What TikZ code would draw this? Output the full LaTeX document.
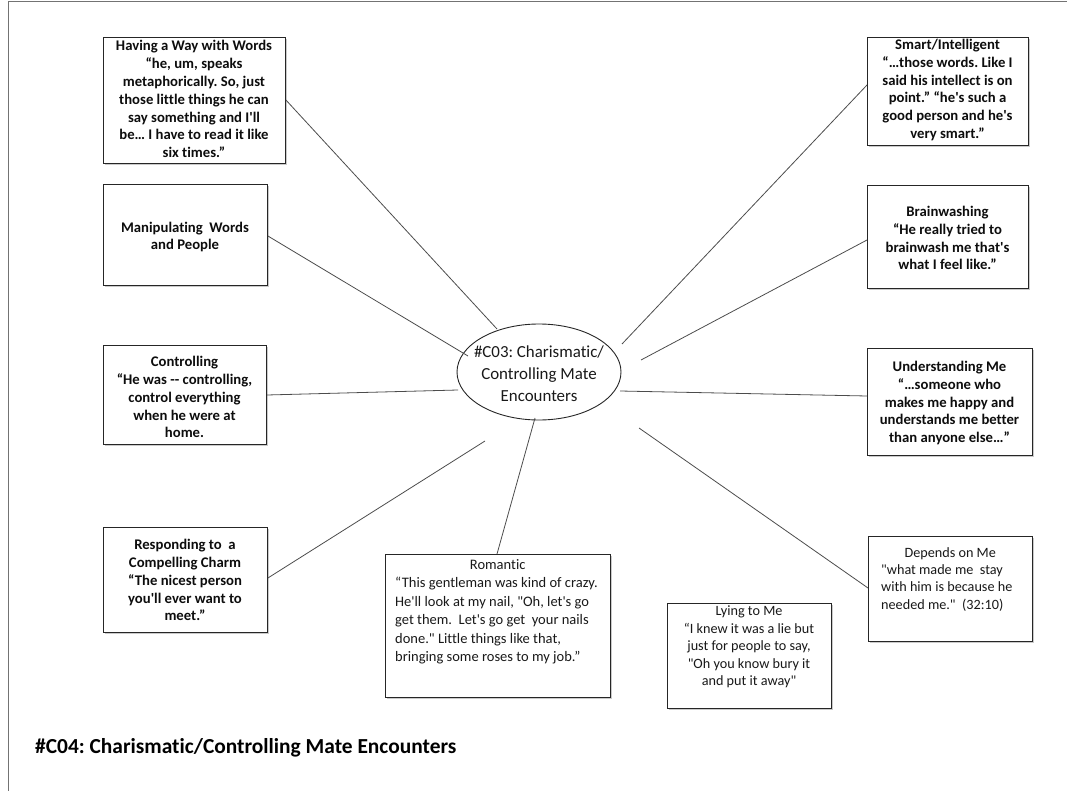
\documentclass[tikz,border=0pt]{standalone}
\usepackage{fontspec}
\setmainfont{Carlito}[Ligatures={TeXOff,NoCommon}]
\usetikzlibrary{shapes.geometric,calc,shadows}
\frenchspacing

\tikzset{
  box/.style={draw=black!85, line width=0.9pt, fill=white, rectangle, inner sep=0pt,
    anchor=north west,
    drop shadow={shadow xshift=1.6pt, shadow yshift=-1.6pt, opacity=0.35, fill=black!60}},
  boldtxt/.style={align=center, inner sep=0pt,
    font=\fontsize{14.7}{17.9}\selectfont\bfseries, text=black!95},
  plaintxt/.style={inner sep=0pt,
    font=\fontsize{14.2}{17.4}\selectfont, text=black!90},
  link/.style={draw=black!70, line width=0.8pt},
  hub/.style={ellipse, draw=black!85, line width=0.9pt, fill=white, inner sep=0pt,
    minimum width=164pt, minimum height=96pt},
  hubtxt/.style={align=center, inner sep=0pt,
    font=\fontsize{16.9}{22}\selectfont, text=black!90}
}

\begin{document}
\begin{tikzpicture}[x=1pt, y=-1pt]
\useasboundingbox (0,0) rectangle (1067,791);

% page frame
\draw[black!55, line width=0.8pt] (8,791) -- (8,1) -- (1067,1);

% left column
\node[box, minimum width=182pt, minimum height=126pt] (b1) at (103,37) {};
\node[boldtxt] (t1) at (194,99) {Having a Way with Words\\“he, um, speaks\\metaphorically. So, just\\those little things he can\\say something and I'll\\be… I have to read it like\\six times.”};

\node[box, minimum width=164pt, minimum height=101pt] (b2) at (103,184) {};
\node[boldtxt] (t2) at (185,237) {Manipulating\ \ Words\\and People};

\node[box, minimum width=163pt, minimum height=99pt] (b3) at (103,345) {};
\node[boldtxt] (t3) at (184.5,397) {Controlling\\“He was -- controlling,\\control everything\\when he were at\\home.};

\node[box, minimum width=164pt, minimum height=105pt] (b4) at (103,527) {};
\node[boldtxt] (t4) at (185,580) {Responding to\ \ a\\Compelling Charm\\“The nicest person\\you'll ever want to\\meet.”};

% bottom row
\node[box, minimum width=225pt, minimum height=143pt] (b5) at (385,554) {};
\node[plaintxt, font=\fontsize{14.5}{18.5}\selectfont, align=left, anchor=north west] (t5) at (395,559)
  {\makebox[205pt][c]{Romantic}\\“This gentleman was kind of crazy.\\He'll look at my nail, "Oh, let's go\\get them.\ \ Let's go get\ \ your nails\\done." Little things like that,\\bringing some roses to my job.”};

\node[box, minimum width=164pt, minimum height=105pt] (b6) at (667,603) {};
\node[plaintxt, align=center] (t6) at (749,647) {Lying to Me\\“I knew it was a lie but\\just for people to say,\\"Oh you know bury it\\and put it away"};

\node[box, minimum width=164pt, minimum height=105pt] (b7) at (868,536) {};
\node[plaintxt, align=left, anchor=north west] (t7) at (881,547)
  {\makebox[138pt][c]{Depends on Me}\\"what made me\ \ stay\\with him is because he\\needed me."\ \ (32:10)};

% right column
\node[box, minimum width=165pt, minimum height=107pt] (b8) at (867,348) {};
\node[boldtxt] (t8) at (949.5,403) {Understanding Me\\“…someone who\\makes me happy and\\understands me better\\than anyone else…”};

\node[box, minimum width=161pt, minimum height=103pt] (b9) at (867,185) {};
\node[boldtxt] (t9) at (947.5,238) {Brainwashing\\“He really tried to\\brainwash me that's\\what I feel like.”};

\node[box, minimum width=161pt, minimum height=108pt] (b10) at (867,37) {};
\node[boldtxt] (t10) at (947.5,90) {Smart/Intelligent\\“…those words. Like I\\said his intellect is on\\point.” “he's such a\\good person and he's\\very smart.”};

% central theme
\node[hub] (hub) at (539,372) {};
\node[hubtxt] (hubt) at ($(hub.center)+(0,2)$) {\#C03: Charismatic/\\Controlling Mate\\Encounters};

% free ends of the spokes near the hub
\coordinate (e1) at ($(hub.center)+(-42,-43)$);
\coordinate (e2) at ($(hub.center)+(-71,-16)$);
\coordinate (e3) at ($(hub.center)+(-81,18)$);
\coordinate (e4) at ($(hub.center)+(-54,69)$);
\coordinate (e5) at ($(hub.center)+(-4,46)$);
\coordinate (e6) at ($(hub.center)+(100,56)$);
\coordinate (e7) at ($(hub.center)+(81,19)$);
\coordinate (e8) at ($(hub.center)+(102,-12)$);
\coordinate (e9) at ($(hub.center)+(83,-28)$);

% spokes
\draw[link] ($(b1.north east)+(0,63)$) -- (e1);
\draw[link] ($(b2.north east)+(0,52)$) -- (e2);
\draw[link] ($(b3.north east)+(0,50)$) -- (e3);
\draw[link] ($(b4.north east)+(0,51)$) -- (e4);
\draw[link] ($(b5.north west)+(112,0)$) -- (e5);
\draw[link] ($(b7.north west)+(0,52)$) -- (e6);
\draw[link] ($(b8.north west)+(0,48)$) -- (e7);
\draw[link] ($(b9.north west)+(0,55)$) -- (e8);
\draw[link] ($(b10.north west)+(0,48)$) -- (e9);

% caption
\node[anchor=west, inner sep=0pt, font=\fontsize{21.4}{24}\selectfont\bfseries, text=black] (cap)
  at (35,748) {\#C04: Charismatic/Controlling Mate Encounters};
\end{tikzpicture}
\end{document}
